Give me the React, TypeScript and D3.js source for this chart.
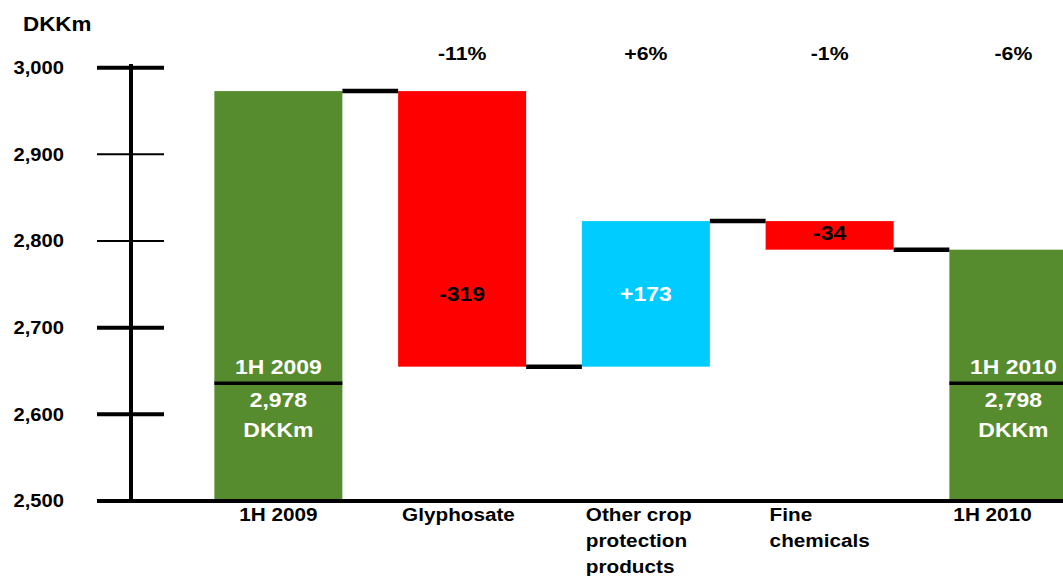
import React from "react";
import * as d3 from "d3";

// ---- data ----
const categories = ["1H 2009", "Glyphosate", "Other crop protection products", "Fine chemicals", "1H 2010"];
const categoryLines = [["1H 2009"], ["Glyphosate"], ["Other crop", "protection", "products"], ["Fine", "chemicals"], ["1H 2010"]];
const startValue = 2973;
const deltaValues = [-318, 168, -33];
const endValue = 2790;
const valueLabels = ["2,978", "-319", "+173", "-34", "2,798"];
const pctLabels = ["", "-11%", "+6%", "-1%", "-6%"];
const yTicks = [2500, 2600, 2700, 2800, 2900, 3000];
const thickTicks = [3000, 2700, 2600];
const yUnit = "DKKm";

const W = 1063;
const H = 576;
const GREEN = "#568C2D";
const RED = "#FF0000";
const CYAN = "#00CCFF";
const FONT = "'Liberation Sans', Arial, sans-serif";
const SX = 1.12;

function T({ x, y, size, fill = "#000", anchor = "middle", children }: any) {
  return (
    <g transform={`translate(${x},${y}) scale(${SX},1)`}>
      <text x={0} y={0} fontFamily={FONT} fontWeight="bold" fontSize={size} fill={fill} textAnchor={anchor}>
        {children}
      </text>
    </g>
  );
}

export default function App() {
  const x = d3
    .scaleBand<string>()
    .domain(categories)
    .range([186.5, 1105.25])
    .paddingInner(0.3034)
    .paddingOuter(0.1517);
  const y = d3.scaleLinear().domain([2500, 3000]).range([501, 67.7]);
  const bw = x.bandwidth();

  // waterfall bars
  type Bar = { cat: string; lo: number; hi: number; color: string; level: number };
  const bars: Bar[] = [];
  bars.push({ cat: categories[0], lo: 2500, hi: startValue, color: GREEN, level: startValue });
  let run = startValue;
  deltaValues.forEach((d, i) => {
    const next = run + d;
    bars.push({
      cat: categories[i + 1],
      lo: Math.min(run, next),
      hi: Math.max(run, next),
      color: d < 0 ? RED : CYAN,
      level: next,
    });
    run = next;
  });
  bars.push({ cat: categories[4], lo: 2500, hi: endValue, color: GREEN, level: endValue });

  const dividerY = y(2636);
  const cyanMid = (y(bars[2].lo) + y(bars[2].hi)) / 2;

  return (
    <svg width={W} height={H} style={{ position: "absolute", left: 0, top: 0, display: "block", background: "#fff" }}>
      {/* bars */}
      {bars.map((b, i) => (
        <rect key={i} x={x(b.cat)!} y={y(b.hi)} width={bw} height={y(b.lo) - y(b.hi)} fill={b.color} />
      ))}
      {/* connectors */}
      {bars.slice(0, -1).map((b, i) => {
        const x1 = x(b.cat)! + bw;
        const x2 = x(bars[i + 1].cat)!;
        return <line key={i} x1={x1} x2={x2} y1={y(b.level)} y2={y(b.level)} stroke="#000" strokeWidth={4.5} />;
      })}
      {/* y axis */}
      <line x1={131} x2={131} y1={64} y2={y(2500)} stroke="#000" strokeWidth={4} />
      {yTicks.map((t) => (
        <g key={t}>
          {t !== 2500 && (
            <line
              x1={97}
              x2={164}
              y1={y(t)}
              y2={y(t)}
              stroke="#000"
              strokeWidth={thickTicks.includes(t) ? 4 : 2}
            />
          )}
          <T x={64} y={y(t) + 6.4} size={18} anchor="end">
            {d3.format(",")(t)}
          </T>
        </g>
      ))}
      <line x1={97} x2={W} y1={y(2500)} y2={y(2500)} stroke="#000" strokeWidth={4} />
      <T x={23} y={30.7} size={20} anchor="start">
        {yUnit}
      </T>

      {/* green bar inner labels */}
      {[0, 4].map((i) => {
        const cx = x(categories[i])! + bw / 2;
        return (
          <g key={i}>
            <line x1={x(categories[i])!} x2={x(categories[i])! + bw} y1={dividerY} y2={dividerY} stroke="#000" strokeWidth={3.5} />
            <T x={cx} y={dividerY - 9.3} size={20.5} fill="#fff">
              {categories[i]}
            </T>
            <T x={cx} y={dividerY + 24} size={20.5} fill="#fff">
              {valueLabels[i]}
            </T>
            <T x={cx} y={dividerY + 53.7} size={20.5} fill="#fff">
              {yUnit}
            </T>
          </g>
        );
      })}

      {/* delta labels */}
      {[1, 2, 3].map((i) => {
        const b = bars[i];
        const cx = x(b.cat)! + bw / 2;
        const cy = i === 1 ? cyanMid : i === 3 ? (y(b.lo) + y(b.hi)) / 2 - 2.5 : (y(b.lo) + y(b.hi)) / 2;
        return (
          <T key={i} x={cx} y={cy + 7.3} size={20.5} fill={b.color === CYAN ? "#fff" : "#000"}>
            {valueLabels[i]}
          </T>
        );
      })}

      {/* percentage labels */}
      {pctLabels.map((p, i) =>
        p ? (
          <T key={i} x={x(categories[i])! + bw / 2} y={60} size={19}>
            {p}
          </T>
        ) : null
      )}

      {/* category labels */}
      {categoryLines.map((lines, i) =>
        lines.map((ln, j) =>
          i === 0 ? (
            <T key={`${i}-${j}`} x={x(categories[i])! + bw / 2} y={520.5 + j * 26} size={18.5}>
              {ln}
            </T>
          ) : (
            <T key={`${i}-${j}`} x={x(categories[i])! + 4} y={520.5 + j * 26} size={18.5} anchor="start">
              {ln}
            </T>
          )
        )
      )}
    </svg>
  );
}
